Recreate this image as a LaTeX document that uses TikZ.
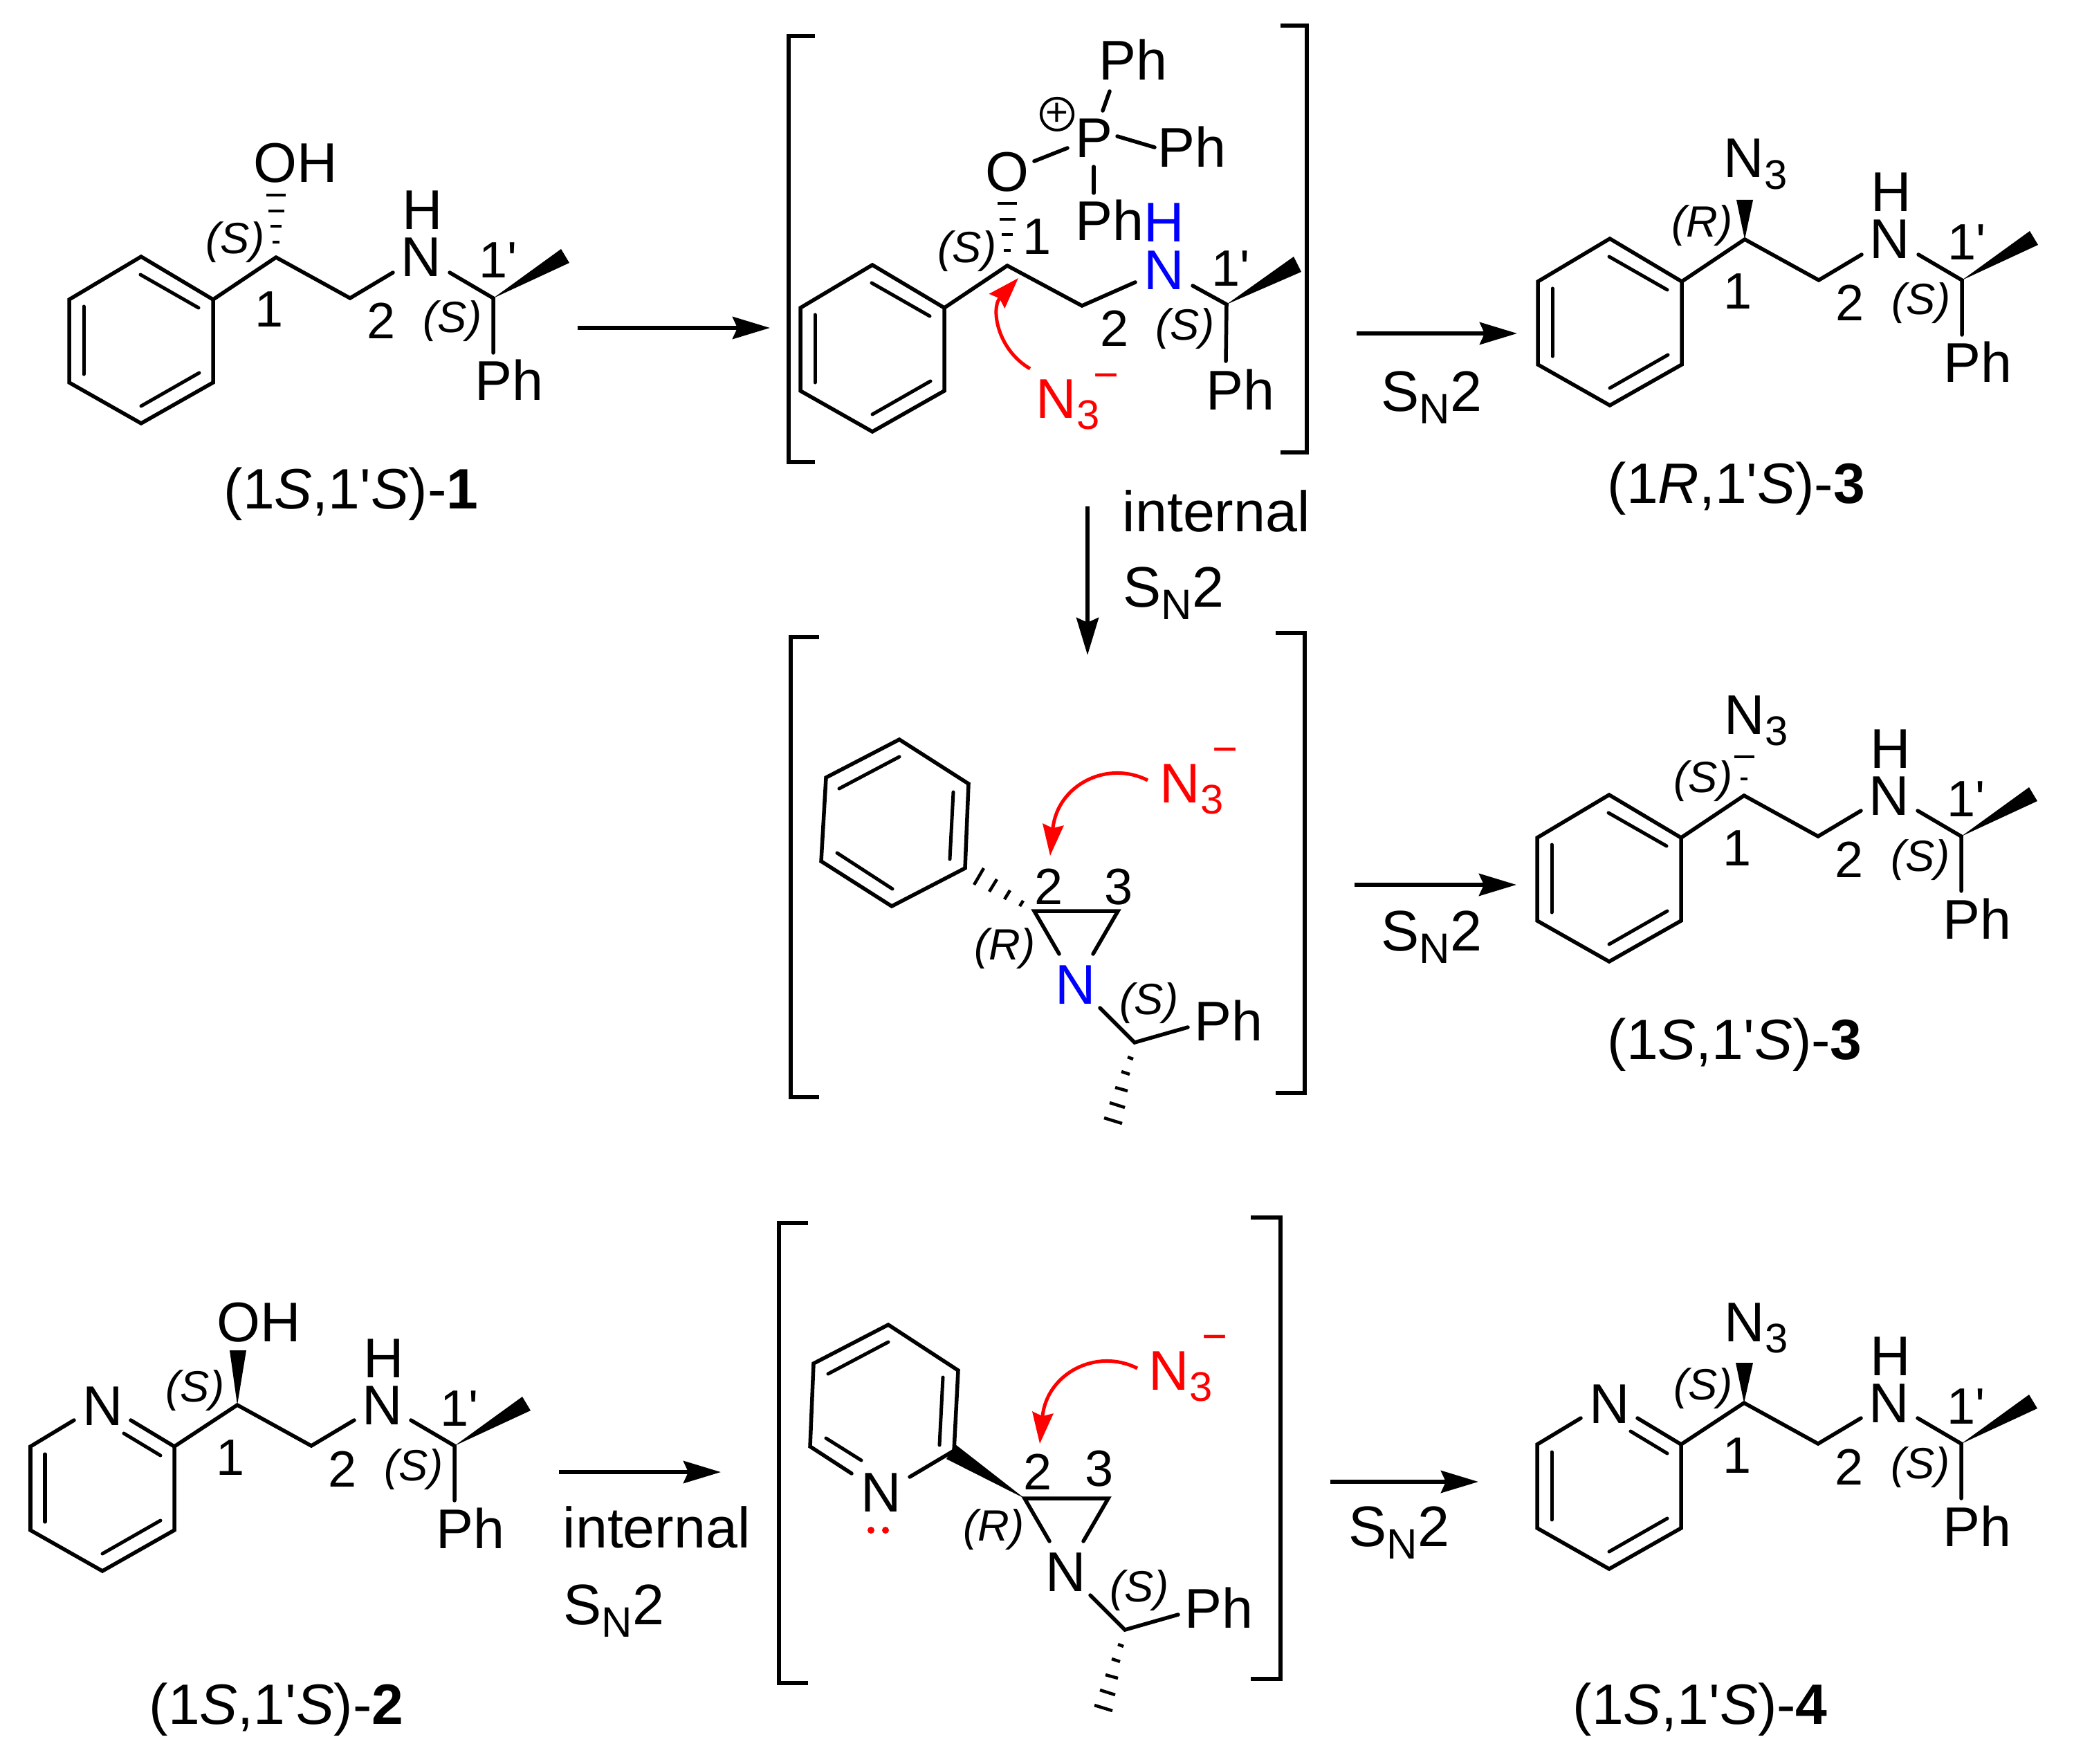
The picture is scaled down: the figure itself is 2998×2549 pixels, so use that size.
\documentclass[tikz,border=0pt]{standalone}
\usepackage{fontspec}
\usetikzlibrary{arrows.meta}
\setmainfont{Liberation Sans}
\newfontfamily\chemfont{Liberation Sans}
\def\Fs#1{\chemfont\fontsize{#1}{#1}\selectfont}
\def\Nt{N\raisebox{-.165cm}{\Fs{17}3}}
\def\SN{S\raisebox{-.18cm}{\Fs{17.5}N}2}
\tikzset{
	atom/.style={inner sep=0pt, anchor=base west, font=\Fs{23}},
	locant/.style={atom, font=\Fs{21}},
	cip/.style={atom, font=\Fs{18}\itshape},
	caption/.style={atom, font=\Fs{23.4}},
	cond/.style={atom, font=\Fs{23.5}},
	minus/.style={inner sep=0pt, text=red, font=\Fs{18}},
	bond/.style={line width=.055cm, line join=miter, line cap=round},
	dbl/.style={line width=.05cm, line cap=round},
	hash/.style={line width=.045cm},
	bracket/.style={line width=.06cm},
	react/.style={line width=.06cm, -{Stealth[length=.54cm,width=.32cm,inset=.07cm]}},
	attack/.style={line width=.05cm, red, -{Stealth[length=.45cm,width=.3cm,inset=.05cm]}},
}
% ring and chain parts, all relative to C1
\def\Phenyl#1{
	\coordinate (#1c) at (0,0);
	\coordinate (#1r1) at (-195,-1);
	\coordinate (#1r2) at (-91,61);
	\coordinate (#1r3) at (-91,181);
	\coordinate (#1r4) at (-195,240);
	\coordinate (#1r5) at (-299,181);
	\coordinate (#1r6) at (-299,61);
	\draw[bond] (#1r1) -- (#1r2) -- (#1r3) -- (#1r4) -- (#1r5) -- (#1r6) -- cycle;
	\draw[bond] (#1c) -- (#1r2);
	\draw[dbl] (-196,25) -- (-112,73);
	\draw[dbl] (-278,71) -- (-278,169);
	\draw[dbl] (-195,215) -- (-111,167);
}
\def\Pyridyl#1{
	\coordinate (#1c) at (0,0);
	\coordinate (#1ra) at (-236,22);
	\coordinate (#1rb) at (-154,22);
	\coordinate (#1r2) at (-91,60);
	\coordinate (#1r3) at (-91,181);
	\coordinate (#1r4) at (-195,240);
	\coordinate (#1r5) at (-299,181);
	\coordinate (#1r6) at (-299,60);
	\node[atom] (#1nr) at (-224,29) {N};
	\draw[bond] (#1rb) -- (#1r2) -- (#1r3) -- (#1r4) -- (#1r5) -- (#1r6) -- (#1ra);
	\draw[bond] (#1c) -- (#1r2);
	\draw[dbl] (-164,41) -- (-111,73);
	\draw[dbl] (-278,71) -- (-278,169);
	\draw[dbl] (-195,215) -- (-111,167);
}
\def\Tail#1{
	\coordinate (#1c1) at (0,0);
	\coordinate (#1c2) at (107,59);
	\coordinate (#1na) at (169,22);
	\coordinate (#1nb) at (251,22);
	\coordinate (#1cs) at (314,59);
	\coordinate (#1me) at (412,-12);
	\coordinate (#1mf) at (424,8);
	\coordinate (#1ph) at (314,138);
	\node[atom] (#1n) at (180,28) {N};
	\node[atom] (#1h) at (182,-40) {H};
	\node[atom] (#1p) at (287,207) {Ph};
	\node[locant] (#1la) at (-31,101) {1};
	\node[locant] (#1lb) at (131,118) {2};
	\node[locant] (#1lc) at (293,30) {1'};
	\node[cip] (#1s) at (212,109) {(S)};
	\draw[bond] (#1c1) -- (#1c2) -- (#1na);
	\draw[bond] (#1nb) -- (#1cs) -- (#1ph);
	\fill (#1cs) -- (#1me) -- (#1mf) -- cycle;
}
\def\HashUp{
	\foreach \dy/\hw in {-90/14,-67/11.5,-45/8,-22/5}
		\draw[hash] (-\hw,\dy) -- (\hw,\dy);
}
% aziridine relative to C2, #2 is the colour of its N
\def\Azir#1#2{
	\coordinate (#1c2) at (0,0);
	\coordinate (#1c3) at (121,0);
	\coordinate (#1a) at (36,62);
	\coordinate (#1b) at (85,62);
	\coordinate (#1d) at (95,140);
	\coordinate (#1cs) at (145,190);
	\coordinate (#1e) at (222,168);
	\node[atom,text=#2] (#1n) at (30,134) {N};
	\node[atom] (#1p) at (231,187) {Ph};
	\node[cip] (#1s) at (123,149) {(S)};
	\draw[bond] (#1a) -- (#1c2) -- (#1c3) -- (#1b);
	\draw[bond] (#1d) -- (#1cs) -- (#1e);
	\begin{scope}[shift={(#1cs)}]
		\foreach \xa/\ya/\xb/\yb in {-10/21/-2/24,-19/42/-7/46,-28/65/-10/70,-36/87/-14/94,-44/109/-18/117}
			\draw[hash] (\xa,\ya) -- (\xb,\yb);
	\end{scope}
}

\begin{document}
\begin{tikzpicture}[x=.01cm,y=-.01cm]
	\useasboundingbox (0,0) rectangle (2998,2549);

	% (1S,1'S)-1
	\begin{scope}[shift={(399,372)}]
		\Phenyl{a}
		\Tail{a}
		\HashUp
		\node[atom] (aoh) at (-33,-108) {OH};
		\node[cip] (afs) at (-102,-5) {(S)};
	\end{scope}
	\node[caption] (acap) at (323,735) {(1\textit{S},1'\textit{S})-\textbf{1}};

	% phosphonium intermediate
	\begin{scope}[shift={(1456,384)}]
		\Phenyl{b}
		\coordinate (bc2) at (108,58);
		\coordinate (bna) at (185,24);
		\coordinate (bnb) at (268,29);
		\coordinate (bcs) at (317,56);
		\coordinate (bme) at (414,-13);
		\coordinate (bmf) at (425,9);
		\coordinate (bph) at (316,138);
		\node[atom,text=blue] (bn) at (197,35) {N};
		\node[atom,text=blue] (bh) at (197,-34) {H};
		\node[atom] (bp) at (287,208) {Ph};
		\node[locant] (bla) at (22,-16) {1};
		\node[locant] (blb) at (134,117) {2};
		\node[locant] (blc) at (295,30) {1'};
		\node[cip] (bs) at (214,108) {(S)};
		\node[cip] (bfs) at (-101,-4) {(S)};
		\draw[bond] (bc) -- (bc2) -- (bna);
		\draw[bond] (bnb) -- (bcs) -- (bph);
		\fill (bcs) -- (bme) -- (bmf) -- cycle;
		\HashUp
	\end{scope}
	\node[atom] (bo) at (1424,277) {O};
	\node[atom] (bpp) at (1554,228) {P};
	\node[atom] (bpa) at (1588,116) {Ph};
	\node[atom] (bpb) at (1673,242) {Ph};
	\node[atom] (bpc) at (1554,348) {Ph};
	\node[circle, draw, line width=.04cm, minimum size=.45cm, inner sep=0pt, font=\Fs{16}] (bplus) at (1528,165) {+};
	\coordinate (bo1) at (1495,233);
	\coordinate (bo2) at (1543,214);
	\coordinate (bu1) at (1594,160);
	\coordinate (bu2) at (1604,132);
	\coordinate (br1) at (1615,197);
	\coordinate (br2) at (1669,213);
	\coordinate (bd1) at (1581,241);
	\coordinate (bd2) at (1581,279);
	\draw[bond] (bo1) -- (bo2);
	\draw[bond] (bu1) -- (bu2);
	\draw[bond] (br1) -- (br2);
	\draw[bond] (bd1) -- (bd2);
	\node[atom,text=red] (bazide) at (1497,604) {\Nt};
	\node[minus] (bminus) at (1599,552) {−};
	\coordinate (bfrom) at (1489,533);
	\coordinate (bto) at (1472,402);
	\draw[attack] (bfrom) .. controls (1441,505) and (1432,445) .. (bto);
	\draw[bracket] (1178,52) -- (1140,52) -- (1140,668) -- (1178,668);
	\draw[bracket] (1851,37) -- (1889,37) -- (1889,654) -- (1851,654);

	% (1R,1'S)-3
	\begin{scope}[shift={(2522,346)}]
		\Phenyl{c}
		\Tail{c}
		\node[atom] (cazide) at (-31,-89) {\Nt};
		\node[cip] (cfr) at (-106,-3) {(R)};
		\coordinate (cwa) at (-12,-57);
		\coordinate (cwb) at (12,-57);
		\fill (cc) -- (cwa) -- (cwb) -- cycle;
	\end{scope}
	\node[caption] (ccap) at (2323,727) {(1\textit{R},1'\textit{S})-\textbf{3}};

	% aziridinium with phenyl
	\begin{scope}[shift={(1495,1317)}]
		\Azir{d}{blue}
	\end{scope}
	\coordinate (dr1) at (1300,1069);
	\coordinate (dr2) at (1400,1133);
	\coordinate (dr3) at (1395,1255);
	\coordinate (dr4) at (1289,1310);
	\coordinate (dr5) at (1187,1245);
	\coordinate (dr6) at (1194,1124);
	\draw[bond] (dr1) -- (dr2) -- (dr3) -- (dr4) -- (dr5) -- (dr6) -- cycle;
	\draw[dbl] (1300,1094) -- (1213,1140);
	\draw[dbl] (1378,1145) -- (1373,1242);
	\draw[dbl] (1210,1233) -- (1290,1285);
	\foreach \xa/\ya/\xb/\yb in {1422/1255/1408/1279,1441/1271/1430/1289,1460/1287/1452/1300,1479/1302/1474/1310}
		\draw[hash] (\xa,\ya) -- (\xb,\yb);
	\node[locant] (dla) at (1495,1307) {2};
	\node[locant] (dlb) at (1596,1307) {3};
	\node[cip] (dfr) at (1408,1387) {(R)};
	\node[atom,text=red] (dazide) at (1676,1160) {\Nt};
	\node[minus] (dminus) at (1771,1093) {−};
	\coordinate (dfrom) at (1659,1128);
	\coordinate (dto) at (1518,1237);
	\draw[attack] (dfrom) .. controls (1600,1098) and (1528,1135) .. (dto);
	\draw[bracket] (1184,921) -- (1143,921) -- (1143,1586) -- (1184,1586);
	\draw[bracket] (1844,915) -- (1886,915) -- (1886,1580) -- (1844,1580);

	% (1S,1'S)-3
	\begin{scope}[shift={(2521,1150)}]
		\Phenyl{e}
		\Tail{e}
		\node[atom] (eazide) at (-29,-89) {\Nt};
		\node[cip] (efs) at (-102,-5) {(S)};
		\draw[hash] (-14,-56) -- (15,-56);
		\draw[hash] (-5,-24) -- (5,-24);
	\end{scope}
	\node[caption] (ecap) at (2323,1531) {(1\textit{S},1'\textit{S})-\textbf{3}};

	% (1S,1'S)-2
	\begin{scope}[shift={(343,2031)}]
		\Pyridyl{f}
		\Tail{f}
		\node[atom] (foh) at (-30,-92) {OH};
		\node[cip] (ffs) at (-104,-5) {(S)};
		\coordinate (fwa) at (-11,-79);
		\coordinate (fwb) at (13,-79);
		\fill (fc) -- (fwa) -- (fwb) -- cycle;
	\end{scope}
	\node[caption] (fcap) at (215,2492) {(1\textit{S},1'\textit{S})-\textbf{2}};

	% aziridine with pyridyl
	\begin{scope}[shift={(1481,2166)}]
		\Azir{g}{black}
	\end{scope}
	\coordinate (gr1) at (1284,1915);
	\coordinate (gr2) at (1385,1981);
	\coordinate (gr3) at (1379,2097);
	\coordinate (gr5) at (1171,2091);
	\coordinate (gr6) at (1176,1971);
	\coordinate (gna) at (1231,2130);
	\coordinate (gnb) at (1315,2135);
	\coordinate (gwa) at (1368,2109);
	\coordinate (gwb) at (1381,2088);
	\draw[bond] (gna) -- (gr5) -- (gr6) -- (gr1) -- (gr2) -- (gr3) -- (gnb);
	\draw[dbl] (1284,1940) -- (1197,1986);
	\draw[dbl] (1363,1991) -- (1358,2089);
	\draw[dbl] (1194,2079) -- (1245,2111);
	\fill (gc2) -- (gwa) -- (gwb) -- cycle;
	\node[atom] (gnr) at (1244,2185) {N};
	\fill[red] (1259,2212) circle[radius=.05cm];
	\fill[red] (1280,2212) circle[radius=.05cm];
	\node[locant] (gla) at (1479,2153) {2};
	\node[locant] (glb) at (1568,2148) {3};
	\node[cip] (gfr) at (1392,2227) {(R)};
	\node[atom,text=red] (gazide) at (1660,2009) {\Nt};
	\node[minus] (gminus) at (1756,1942) {−};
	\coordinate (gfrom) at (1644,1978);
	\coordinate (gto) at (1503,2087);
	\draw[attack] (gfrom) .. controls (1585,1948) and (1513,1985) .. (gto);
	\draw[bracket] (1168,1768) -- (1126,1768) -- (1126,2433) -- (1168,2433);
	\draw[bracket] (1808,1760) -- (1851,1760) -- (1851,2427) -- (1808,2427);

	% (1S,1'S)-4
	\begin{scope}[shift={(2521,2028)}]
		\Pyridyl{h}
		\Tail{h}
		\node[atom] (hazide) at (-29,-89) {\Nt};
		\node[cip] (hfs) at (-102,-5) {(S)};
		\coordinate (hwa) at (-12,-58);
		\coordinate (hwb) at (13,-58);
		\fill (hc) -- (hwa) -- (hwb) -- cycle;
	\end{scope}
	\node[caption] (hcap) at (2273,2492) {(1\textit{S},1'\textit{S})-\textbf{4}};

	% reaction arrows
	\coordinate (s1) at (835,474);
	\coordinate (e1) at (1113,474);
	\coordinate (s2) at (1961,482);
	\coordinate (e2) at (2193,482);
	\coordinate (s3) at (1572,732);
	\coordinate (e3) at (1572,947);
	\coordinate (s4) at (1958,1279);
	\coordinate (e4) at (2192,1279);
	\coordinate (s5) at (808,2128);
	\coordinate (e5) at (1042,2128);
	\coordinate (s6) at (1923,2142);
	\coordinate (e6) at (2137,2142);
	\draw[react] (s1) -- (e1);
	\draw[react] (s2) -- (e2);
	\draw[react] (s3) -- (e3);
	\draw[react] (s4) -- (e4);
	\draw[react] (s5) -- (e5);
	\draw[react] (s6) -- (e6);
	\node[cond] (t2) at (1996,594) {\SN};
	\node[cond] (t3a) at (1622,768) {internal};
	\node[cond] (t3b) at (1623,877) {\SN};
	\node[cond] (t4) at (1996,1374) {\SN};
	\node[cond] (t5a) at (813,2237) {internal};
	\node[cond] (t5b) at (814,2348) {\SN};
	\node[cond] (t6) at (1949,2235) {\SN};
\end{tikzpicture}
\end{document}
